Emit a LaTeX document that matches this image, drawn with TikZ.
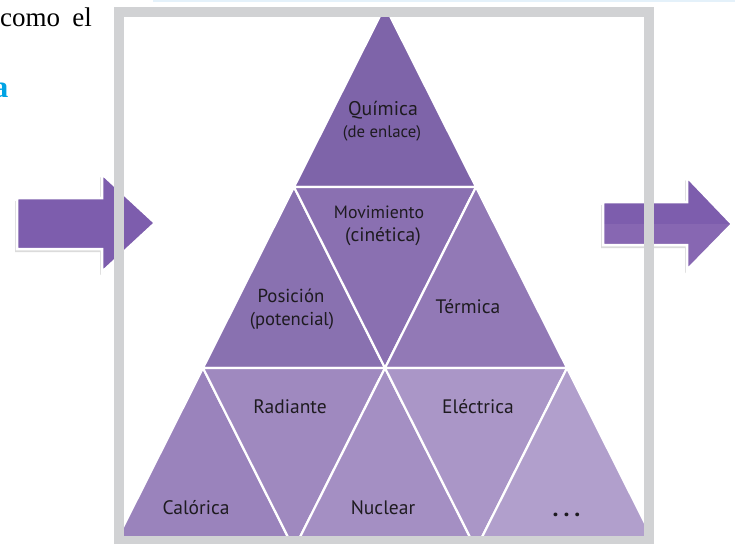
\documentclass[tikz,border=0pt]{standalone}
\usepackage{fontspec}
\setmainfont{Liberation Serif}
\newfontfamily\labfont{PT Sans}
\definecolor{frameg}{HTML}{D1D2D4}
\definecolor{arrowp}{HTML}{7D5DAD}
\definecolor{arrowq}{HTML}{8767B2}
\definecolor{txt}{HTML}{1E1B20}
\definecolor{cyanA}{HTML}{00A3E4}
\definecolor{topline}{HTML}{E4F1FA}
\definecolor{tA}{HTML}{7E64A9}
\definecolor{tB}{HTML}{8971B0}
\definecolor{tC}{HTML}{8A70B1}
\definecolor{tD}{HTML}{9279B6}
\definecolor{tE}{HTML}{9A83BC}
\definecolor{tF}{HTML}{9F89BF}
\definecolor{tG}{HTML}{A48FC3}
\definecolor{tH}{HTML}{AA96C7}
\definecolor{tI}{HTML}{B19FCC}
\begin{document}
\begin{tikzpicture}[x=1pt,y=-1pt,
  lab/.style={font=\labfont\fontsize{19.5}{25}\selectfont, text=txt, inner sep=0pt},
  tri/.style={draw=white, line width=2.2pt, line join=miter},
  bigarrow/.style={draw=white, line width=2.5pt, line join=miter},
  shadowarrow/.style={fill=black!35, opacity=0.4}]
\useasboundingbox (0,0) rectangle (735,543);
\clip (0,0) rectangle (735,543);
% faint top line
\fill[topline] (153,0) rectangle (735,2.5);
% side text
\node[anchor=base west, inner sep=0pt, font=\fontsize{27}{30}\selectfont, text=black] (como) at (0,27) {como\hspace{0.45em}el};
\node[anchor=base east, inner sep=0pt, font=\bfseries\fontsize{31}{34}\selectfont, text=cyanA] (aa) at (8.5,97) {a};
% triangles
\foreach \i in {0,...,3}{
  \foreach \j in {0,...,\i}{
    \coordinate (p\i\j) at ({385+91*(2*\j-\i)},{6+181*\i});
  }
}
\begin{scope}
\clip (124,17) rectangle (644,536);
\filldraw[tri, fill=tA] (p00) -- (p10) -- (p11) -- cycle;
\filldraw[tri, fill=tB] (p10) -- (p20) -- (p21) -- cycle;
\filldraw[tri, fill=tC] (p10) -- (p11) -- (p21) -- cycle;
\filldraw[tri, fill=tD] (p11) -- (p21) -- (p22) -- cycle;
\filldraw[tri, fill=tE] (p20) -- (p30) -- (p31) -- cycle;
\filldraw[tri, fill=tF] (p20) -- (p21) -- (p31) -- cycle;
\filldraw[tri, fill=tG] (p21) -- (p31) -- (p32) -- cycle;
\filldraw[tri, fill=tH] (p21) -- (p22) -- (p32) -- cycle;
\filldraw[tri, fill=tI] (p22) -- (p32) -- (p33) -- cycle;
\end{scope}
% left arrow
\fill[shadowarrow, shift={(-2,3)}] (17,198) -- (102,198) -- (102,174) -- (155,223) -- (102,272) -- (102,249) -- (17,249) -- cycle;
\filldraw[bigarrow, fill=arrowp] (17,198) -- (102,198) -- (102,174) -- (155,223) -- (102,272) -- (102,249) -- (17,249) -- cycle;
% right arrow
\fill[shadowarrow, shift={(-2,3)}] (603,202) -- (687,202) -- (687,177) -- (732,224) -- (687,270) -- (687,245) -- (603,245) -- cycle;
\fill[arrowp] (603,202) -- (687,202) -- (687,177) -- (732,224) -- (687,270) -- (687,245) -- (603,245) -- cycle;
\begin{scope}
\clip (600,224) rectangle (735,275);
\fill[arrowq] (603,202) -- (687,202) -- (687,177) -- (732,224) -- (687,270) -- (687,245) -- (603,245) -- cycle;
\end{scope}
\draw[bigarrow] (603,202) -- (687,202) -- (687,177) -- (732,224) -- (687,270) -- (687,245) -- (603,245) -- cycle;
% frame
\draw[frameg, line width=10pt] (119,12) rectangle (649,541);
% labels
\node[lab, font=\labfont\fontsize{19.8}{25}\selectfont] (quim) at (383,110) {Química};
\node[lab, font=\labfont\fontsize{16.8}{20}\selectfont] (enl) at (382,133) {(de enlace)};
\node[lab, font=\labfont\fontsize{17.8}{25}\selectfont] (mov) at (379,212) {Movimiento};
\node[lab] (cin) at (383,237) {(cinética)};
\node[lab, font=\labfont\fontsize{18.8}{25}\selectfont] (pos) at (291,296) {Posición};
\node[lab, font=\labfont\fontsize{18.6}{25}\selectfont] (pot) at (292,321) {(potencial)};
\node[lab] (term) at (468,307) {Térmica};
\node[lab] (rad) at (290,407) {Radiante};
\node[lab] (elec) at (478,407) {Eléctrica};
\node[lab] (cal) at (196,508) {Calórica};
\node[lab] (nuc) at (383,508) {Nuclear};
\node[anchor=base, inner sep=0pt, text=txt, font=\labfont\bfseries\fontsize{24}{25}\selectfont] (dots) at (566.5,516) {.\hspace{5pt}.\hspace{5pt}.};
\end{tikzpicture}
\end{document}
